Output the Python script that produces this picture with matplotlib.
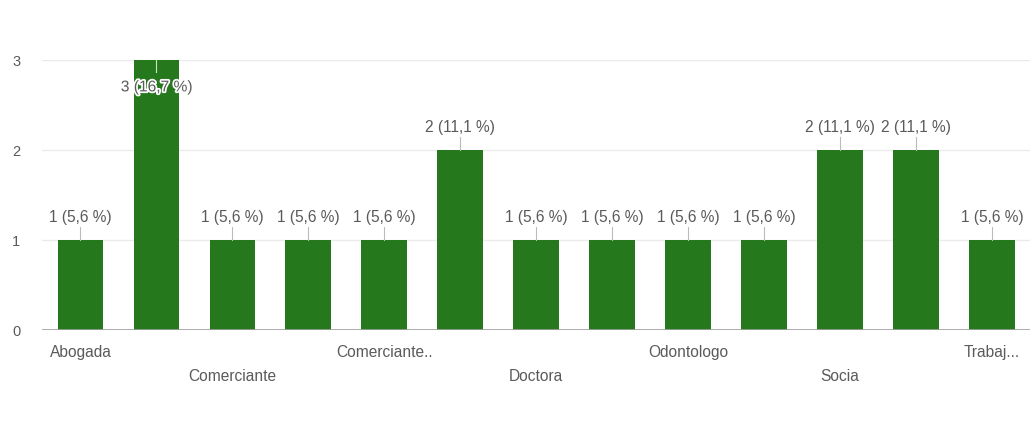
import matplotlib.pyplot as plt
import matplotlib.patheffects as pe

# datos (solo se muestran algunas etiquetas del eje)
categorias = ["Abogada", "", "Comerciante", "", "Comerciante..", "",
              "Doctora", "", "Odontologo", "", "Socia", "", "Trabaj..."]
valores = [1, 3, 1, 1, 1, 2, 1, 1, 1, 1, 2, 2, 1]
etiquetas = ["1 (5,6 %)", "3 (16,7 %)", "1 (5,6 %)", "1 (5,6 %)", "1 (5,6 %)",
             "2 (11,1 %)", "1 (5,6 %)", "1 (5,6 %)", "1 (5,6 %)", "1 (5,6 %)",
             "2 (11,1 %)", "2 (11,1 %)", "1 (5,6 %)"]
yticks = [0, 1, 2, 3]

verde = "#26781d"
gris = "#5a5a5a"
fs = 11.2

plt.rcParams['font.family'] = ['Liberation Sans', 'DejaVu Sans']

fig = plt.figure(figsize=(10.35, 4.21), dpi=100)
ax = fig.add_axes([0.041, 0.216, 0.954, 0.641])

x = list(range(len(valores)))
ax.bar(x, valores, width=0.6, color=verde, zorder=2)

ax.set_xlim(-0.5, len(valores) - 0.5)
ax.set_ylim(0, 3)
ax.set_yticks(yticks)
ax.set_yticklabels([str(t) for t in yticks])
ax.tick_params(axis='y', length=0, pad=16, labelsize=10.5, labelcolor=gris)
ax.set_xticks([])

for t in yticks[1:]:
    ax.axhline(t, color="#ebebeb", lw=1, zorder=0)
ax.axhline(0, color="#9e9e9e", lw=1.2, zorder=3)

for s in ax.spines.values():
    s.set_visible(False)

# etiquetas de datos con línea guía
for i, (v, lab) in enumerate(zip(valores, etiquetas)):
    if v == max(valores):
        ax.plot([i, i], [v, v - 0.13], color="#c8e6c0", lw=0.8, zorder=3)
        ax.text(i, v - 0.38, lab, ha='center', va='bottom', fontsize=fs, color=gris,
                zorder=4, path_effects=[pe.withStroke(linewidth=2.5, foreground='white')])
    else:
        ax.plot([i, i], [v, v + 0.15], color="#bbbbbb", lw=0.8, zorder=3)
        ax.text(i, v + 0.17, lab, ha='center', va='bottom', fontsize=fs, color=gris,
                zorder=4, bbox=dict(facecolor='white', edgecolor='none', pad=0))

# etiquetas del eje x en dos filas alternas
for i, c in enumerate(categorias):
    if not c:
        continue
    fila = (i // 2) % 2
    ax.annotate(c, xy=(i, 0), xycoords='data', xytext=(0, -22 - 24 * fila),
                textcoords='offset pixels', ha='center', va='center',
                fontsize=fs, color=gris)

fig.savefig("out.png", dpi=100, facecolor='white')
